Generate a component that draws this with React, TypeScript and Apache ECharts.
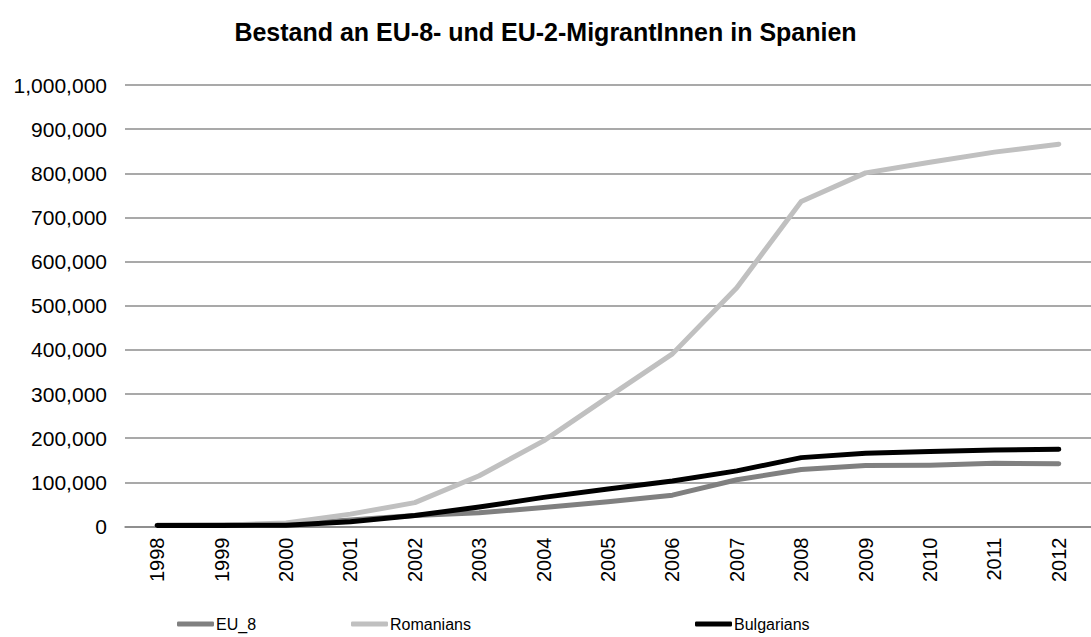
import React, { useEffect, useRef } from "react";
import * as echarts from "echarts";

const years = ["1998","1999","2000","2001","2002","2003","2004","2005","2006","2007","2008","2009","2010","2011","2012"];
const eu8 = [3000, 3500, 5000, 15000, 25000, 31000, 43000, 56000, 71000, 106000, 129000, 138000, 139000, 143000, 142000];
const romanians = [2000, 3000, 8000, 28000, 54000, 115000, 194000, 293000, 391000, 541000, 736000, 801000, 825000, 848000, 866000];
const bulgarians = [2000, 2200, 3000, 11000, 25000, 44000, 66000, 85000, 103000, 126000, 156000, 166000, 170000, 173000, 175000];
const yTicks = [0, 100000, 200000, 300000, 400000, 500000, 600000, 700000, 800000, 900000, 1000000];

const FONT = "'Liberation Sans', Arial, sans-serif";

export default function App() {
  const ref = useRef<HTMLDivElement>(null);
  useEffect(() => {
    const chart = echarts.init(ref.current!, null, { renderer: "svg" });
    const mk = (name: string, data: number[], color: string) => ({
      name,
      type: "line",
      data,
      symbol: "none",
      lineStyle: { color, width: 5, cap: "round", join: "round" },
      itemStyle: { color },
    });
    const legendBase = {
      top: 611,
      itemWidth: 37,
      itemHeight: 5,
      itemGap: 0,
      icon: "roundRect",
      textStyle: { fontFamily: FONT, fontSize: 16, color: "#000", padding: [0, 0, 0, -3] },
    };
    chart.setOption({
      animation: false,
      backgroundColor: "#fff",
      title: {
        text: "Bestand an EU-8- und EU-2-MigrantInnen in Spanien",
        left: "center",
        top: 14,
        textStyle: { fontFamily: FONT, fontSize: 25, fontWeight: "bold", color: "#000" },
      },
      legend: [
        { ...legendBase, left: 172, data: ["EU_8"] },
        { ...legendBase, left: 346, data: ["Romanians"] },
        { ...legendBase, left: 690, data: ["Bulgarians"] },
      ],
      grid: { left: 125, top: 85, width: 973.4, height: 441.5, containLabel: false },
      xAxis: {
        type: "category",
        data: years,
        boundaryGap: true,
        axisLine: { lineStyle: { color: "#868686", width: 1.5 } },
        axisTick: { show: false },
        axisLabel: { rotate: 90, margin: 11, fontFamily: FONT, fontSize: 20, color: "#000" },
      },
      yAxis: {
        type: "value",
        min: 0,
        max: 1000000,
        interval: 100000,
        axisLine: { show: false },
        axisTick: { show: false },
        splitLine: { lineStyle: { color: "#8c8c8c", width: 1.5 } },
        axisLabel: {
          margin: 18,
          fontFamily: FONT,
          fontSize: 21,
          color: "#000",
          formatter: (v: number) => (yTicks.includes(v) ? v.toLocaleString("en-US") : ""),
        },
      },
      series: [
        mk("EU_8", eu8, "#808080"),
        mk("Romanians", romanians, "#c0c0c0"),
        mk("Bulgarians", bulgarians, "#000000"),
      ],
    });
    return () => chart.dispose();
  }, []);
  return <div ref={ref} style={{ position: "fixed", left: 0, top: 0, width: 1091, height: 637 }} />;
}
